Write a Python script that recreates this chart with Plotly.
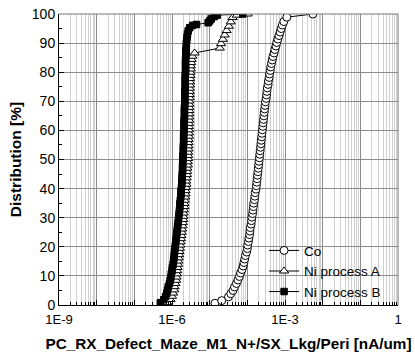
import plotly.graph_objects as go

# Cumulative distribution of leakage per periphery length (nA/um)
co_leak = [
    1.38e-5, 2.09e-5, 3.16e-5, 3.63e-5, 4.17e-5, 4.57e-5, 5.13e-5, 5.62e-5, 6.17e-5, 6.61e-5,
    7.24e-5, 7.76e-5, 8.13e-5, 8.51e-5, 8.91e-5, 9.55e-5, 1.00e-4, 1.02e-4, 1.07e-4, 1.10e-4,
    1.15e-4, 1.17e-4, 1.20e-4, 1.26e-4, 1.29e-4, 1.32e-4, 1.38e-4, 1.41e-4, 1.45e-4, 1.48e-4,
    1.55e-4, 1.58e-4, 1.62e-4, 1.70e-4, 1.74e-4, 1.78e-4, 1.82e-4, 1.86e-4, 1.91e-4, 1.95e-4,
    2.00e-4, 2.04e-4, 2.09e-4, 2.14e-4, 2.19e-4, 2.24e-4, 2.29e-4, 2.34e-4, 2.40e-4, 2.45e-4,
    2.51e-4, 2.57e-4, 2.63e-4, 2.69e-4, 2.75e-4, 2.82e-4, 2.88e-4, 2.95e-4, 3.02e-4, 3.16e-4,
    3.24e-4, 3.31e-4, 3.39e-4, 3.55e-4, 3.63e-4, 3.80e-4, 3.89e-4, 4.07e-4, 4.17e-4, 4.37e-4,
    4.57e-4, 4.79e-4, 5.13e-4, 5.37e-4, 5.75e-4, 6.03e-4, 6.46e-4, 6.92e-4, 7.41e-4, 7.94e-4,
    8.51e-4, 9.33e-4, 1.12e-3, 5.50e-3,
]
co_pct = [
    0.6, 1.5, 2.8, 3.9, 5.0, 6.2, 7.4, 8.6, 9.8, 11.0,
    12.2, 13.4, 14.6, 15.8, 17.0, 18.2, 19.4, 20.6, 21.8, 23.0,
    24.2, 25.4, 26.6, 27.8, 29.0, 30.2, 31.4, 32.6, 33.8, 35.0,
    36.2, 37.4, 38.6, 39.8, 41.0, 42.2, 43.4, 44.6, 45.8, 47.0,
    48.2, 49.4, 50.6, 51.8, 53.0, 54.2, 55.4, 56.6, 57.8, 59.0,
    60.2, 61.4, 62.6, 63.8, 65.0, 66.2, 67.4, 68.6, 69.8, 71.0,
    72.2, 73.4, 74.6, 75.8, 77.0, 78.2, 79.4, 80.6, 81.8, 83.0,
    84.2, 85.4, 86.6, 87.8, 89.0, 90.2, 91.4, 92.6, 93.8, 95.0,
    96.2, 97.4, 98.9, 100.0,
]

ni_a_leak = [
    7.59e-7, 9.12e-7, 1.00e-6, 1.07e-6, 1.15e-6, 1.17e-6, 1.23e-6, 1.29e-6, 1.32e-6, 1.35e-6,
    1.38e-6, 1.41e-6, 1.45e-6, 1.48e-6, 1.51e-6, 1.55e-6, 1.58e-6, 1.62e-6, 1.66e-6, 1.70e-6,
    1.74e-6, 1.78e-6, 1.82e-6, 1.86e-6, 1.91e-6, 1.95e-6, 2.00e-6, 2.00e-6, 2.04e-6, 2.09e-6,
    2.14e-6, 2.14e-6, 2.19e-6, 2.24e-6, 2.29e-6, 2.29e-6, 2.34e-6, 2.40e-6, 2.40e-6, 2.45e-6,
    2.51e-6, 2.51e-6, 2.57e-6, 2.63e-6, 2.63e-6, 2.69e-6, 2.69e-6, 2.69e-6, 2.75e-6, 2.75e-6,
    2.75e-6, 2.75e-6, 2.82e-6, 2.82e-6, 2.82e-6, 2.82e-6, 2.82e-6, 2.88e-6, 2.88e-6, 2.88e-6,
    2.88e-6, 2.88e-6, 2.88e-6, 2.88e-6, 2.95e-6, 2.95e-6, 2.95e-6, 2.95e-6, 3.02e-6, 3.02e-6,
    3.02e-6, 3.09e-6, 3.09e-6, 3.16e-6, 3.16e-6, 3.24e-6, 3.31e-6, 3.47e-6, 3.98e-6, 1.86e-5,
    2.00e-5, 2.24e-5, 2.51e-5, 2.82e-5, 3.24e-5, 3.63e-5, 4.07e-5, 5.25e-5, 1.02e-4,
]
ni_a_pct = [
    0.8, 1.9, 3.0, 4.1, 5.2, 6.3, 7.4, 8.5, 9.6, 10.7,
    11.8, 12.9, 14.0, 15.1, 16.2, 17.3, 18.4, 19.5, 20.6, 21.7,
    22.8, 23.9, 25.0, 26.1, 27.2, 28.3, 29.4, 30.5, 31.6, 32.7,
    33.8, 34.9, 36.0, 37.1, 38.2, 39.3, 40.4, 41.5, 42.6, 43.7,
    44.8, 45.9, 47.0, 48.1, 49.2, 50.3, 51.4, 52.5, 53.6, 54.7,
    55.8, 56.9, 58.0, 59.1, 60.2, 61.3, 62.4, 63.5, 64.6, 65.7,
    66.8, 67.9, 69.0, 70.1, 71.2, 72.3, 73.4, 74.5, 75.6, 76.7,
    77.8, 78.9, 80.0, 81.1, 82.2, 83.3, 84.4, 85.5, 86.6, 88.3,
    89.8, 91.3, 92.8, 94.3, 95.8, 97.3, 98.8, 99.6, 100.0,
]

ni_b_leak = [
    4.90e-7, 6.03e-7, 6.76e-7, 7.24e-7, 7.59e-7, 7.94e-7, 8.51e-7, 8.91e-7, 9.33e-7, 9.55e-7,
    1.00e-6, 1.02e-6, 1.07e-6, 1.10e-6, 1.12e-6, 1.15e-6, 1.17e-6, 1.20e-6, 1.23e-6, 1.26e-6,
    1.29e-6, 1.32e-6, 1.35e-6, 1.38e-6, 1.41e-6, 1.45e-6, 1.48e-6, 1.51e-6, 1.55e-6, 1.58e-6,
    1.62e-6, 1.62e-6, 1.66e-6, 1.70e-6, 1.74e-6, 1.74e-6, 1.78e-6, 1.82e-6, 1.82e-6, 1.86e-6,
    1.86e-6, 1.91e-6, 1.91e-6, 1.91e-6, 1.95e-6, 1.95e-6, 1.95e-6, 2.00e-6, 2.00e-6, 2.00e-6,
    2.04e-6, 2.04e-6, 2.04e-6, 2.04e-6, 2.09e-6, 2.09e-6, 2.09e-6, 2.09e-6, 2.14e-6, 2.14e-6,
    2.14e-6, 2.14e-6, 2.19e-6, 2.19e-6, 2.19e-6, 2.19e-6, 2.19e-6, 2.24e-6, 2.24e-6, 2.24e-6,
    2.24e-6, 2.24e-6, 2.29e-6, 2.29e-6, 2.29e-6, 2.29e-6, 2.29e-6, 2.34e-6, 2.34e-6, 2.34e-6,
    2.40e-6, 2.40e-6, 2.45e-6, 2.51e-6, 2.57e-6, 2.69e-6, 2.95e-6, 3.55e-6, 4.47e-6, 9.12e-6,
    1.00e-5, 1.10e-5, 1.32e-5, 1.58e-5, 7.59e-5,
]
ni_b_pct = [
    0.8, 1.8, 2.9, 4.0, 5.1, 6.2, 7.3, 8.4, 9.5, 10.6,
    11.7, 12.8, 13.9, 15.0, 16.1, 17.2, 18.3, 19.4, 20.5, 21.6,
    22.7, 23.8, 24.9, 26.0, 27.1, 28.2, 29.3, 30.4, 31.5, 32.6,
    33.7, 34.8, 35.9, 37.0, 38.1, 39.2, 40.3, 41.4, 42.5, 43.6,
    44.7, 45.8, 46.9, 48.0, 49.1, 50.2, 51.3, 52.4, 53.5, 54.6,
    55.7, 56.8, 57.9, 59.0, 60.1, 61.2, 62.3, 63.4, 64.5, 65.6,
    66.7, 67.8, 68.9, 70.0, 71.1, 72.2, 73.3, 74.4, 75.5, 76.6,
    77.7, 78.8, 79.9, 81.0, 82.1, 83.2, 84.3, 85.4, 86.5, 87.6,
    88.7, 89.8, 90.9, 92.0, 93.1, 94.2, 95.3, 96.1, 96.4, 97.0,
    97.6, 98.3, 99.1, 99.6, 100.0,
]

x_tickvals = [1e-9, 1e-8, 1e-7, 1e-6, 1e-5, 1e-4, 1e-3, 1e-2, 1e-1, 1]
x_ticktext = ["1E-9", "", "", "1E-6", "", "", "1E-3", "", "", "1"]

FONT = "Liberation Sans, Arial, sans-serif"

fig = go.Figure()

fig.add_trace(go.Scatter(
    x=co_leak, y=co_pct, name="Co", mode="lines+markers",
    line=dict(color="black", width=1),
    marker=dict(symbol="circle", size=8, color="white",
                line=dict(color="black", width=1)),
))
fig.add_trace(go.Scatter(
    x=ni_a_leak, y=ni_a_pct, name="Ni process A", mode="lines+markers",
    line=dict(color="black", width=1),
    marker=dict(symbol="triangle-up", size=8, color="white",
                line=dict(color="black", width=1)),
))
fig.add_trace(go.Scatter(
    x=ni_b_leak, y=ni_b_pct, name="Ni process B", mode="lines+markers",
    line=dict(color="black", width=1),
    marker=dict(symbol="square", size=6.5, color="black",
                line=dict(color="black", width=1)),
))

# White patch behind the legend (covers the grid but not the axis ticks)
fig.add_shape(type="rect", xref="paper", yref="paper",
              x0=0.599, x1=1.0, y0=0.0, y1=0.265,
              fillcolor="white", line=dict(width=0), layer="between")

# Gray frame on top and right
fig.add_shape(type="line", xref="paper", yref="paper",
              x0=0, x1=1, y0=1, y1=1, line=dict(color="#777777", width=1))
fig.add_shape(type="line", xref="paper", yref="paper",
              x0=1, x1=1, y0=0, y1=1, line=dict(color="#777777", width=1))

fig.update_layout(
    width=415, height=355,
    margin=dict(l=59, r=17, t=14, b=50),
    paper_bgcolor="white", plot_bgcolor="white",
    font=dict(family=FONT, color="black"),
    showlegend=True,
    legend=dict(x=0.605, y=0.24, xanchor="left", yanchor="top",
                bgcolor="rgba(0,0,0,0)", font=dict(size=13.5, family=FONT),
                tracegroupgap=0),
    xaxis=dict(
        type="log", range=[-9, 0], automargin=False,
        tickmode="array", tickvals=x_tickvals, ticktext=x_ticktext,
        ticks="inside", ticklen=5, tickcolor="black",
        tickfont=dict(size=13, family=FONT), ticklabelstandoff=2,
        showline=True, linecolor="black", linewidth=1,
        showgrid=True, gridcolor="#8c8c8c", gridwidth=1,
        minor=dict(ticks="inside", ticklen=3, tickcolor="black",
                   showgrid=True, gridcolor="#d0d0d0", dtick="D1"),
        zeroline=False,
        title=dict(text="<b>PC_RX_Defect_Maze_M1_N+/SX_Lkg/Peri [nA/um]</b>",
                   font=dict(size=15.3, family=FONT), standoff=12),
    ),
    yaxis=dict(
        range=[0, 100], dtick=10, tick0=0, automargin=False,
        ticks="inside", ticklen=5, tickcolor="black",
        tickfont=dict(size=14, family=FONT),
        showline=True, linecolor="black", linewidth=1,
        showgrid=True, gridcolor="#8c8c8c", gridwidth=1,
        minor=dict(ticks="inside", ticklen=3, tickcolor="black",
                   dtick=5, showgrid=False),
        zeroline=False,
        title=dict(text="<b>Distribution [%]</b>",
                   font=dict(size=15.5, family=FONT), standoff=6),
    ),
)

fig.write_html("out.html")
